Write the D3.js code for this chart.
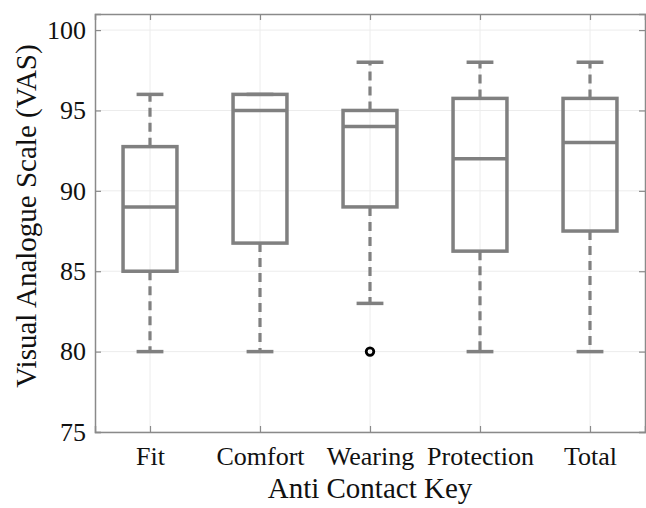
<!DOCTYPE html>
<html>
<head>
<meta charset="utf-8">
<script src="https://cdn.jsdelivr.net/npm/d3@7"></script>
<style>
  body { margin: 0; background: #fff; }
  text { font-family: "Liberation Serif", "Times New Roman", serif; fill: #111; }
</style>
</head>
<body>
<div id="chart"></div>
<script>
// data
var categories = ["Fit", "Comfort", "Wearing", "Protection", "Total"];
var whiskerLow  = [80, 80, 83, 80, 80];
var boxLow      = [85, 86.75, 89, 86.25, 87.5];
var medians     = [89, 95, 94, 92, 93];
var boxHigh     = [92.75, 96, 95, 95.75, 95.75];
var whiskerHigh = [96, 96, 98, 98, 98];
var outliers    = [[], [], [80], [], []];
var yTicks      = [75, 80, 85, 90, 95, 100];

var w = 646, h = 508;
var margin = {left: 95, right: 1, top: 14, bottom: 76};

var svg = d3.select("#chart").append("svg")
	.attr("width", w)
	.attr("height", h);

var x = d3.scaleLinear().domain([0.5, 5.5]).range([margin.left, w - margin.right]);
var y = d3.scaleLinear().domain([75, 101]).range([h - margin.bottom, margin.top]);

var boxColor = "#808080";
var gridColor = "#ececec";
var axisColor = "#8a8a8a";

// grid lines
svg.selectAll("line.ygrid").data(yTicks).enter().append("line")
	.attr("x1", x(0.5)).attr("x2", x(5.5))
	.attr("y1", function(d){ return y(d); }).attr("y2", function(d){ return y(d); })
	.attr("stroke", gridColor).attr("stroke-width", 1);
svg.selectAll("line.xgrid").data(categories).enter().append("line")
	.attr("x1", function(d,i){ return x(i+1); }).attr("x2", function(d,i){ return x(i+1); })
	.attr("y1", y(75)).attr("y2", y(101))
	.attr("stroke", gridColor).attr("stroke-width", 1);

// axes (ticks inward, box on)
var tickLen = 6;
var yAxis = d3.axisLeft(y).tickValues(yTicks).tickSize(-tickLen).tickPadding(9);
var yAxisR = d3.axisRight(y).tickValues(yTicks).tickSize(-tickLen).tickFormat("");
var xAxis = d3.axisBottom(x).tickValues([1,2,3,4,5]).tickSize(-tickLen).tickPadding(15)
	.tickFormat(function(d){ return categories[d-1]; });
var xAxisT = d3.axisTop(x).tickValues([1,2,3,4,5]).tickSize(-tickLen).tickFormat("");

function style(g) {
	g.select(".domain").attr("stroke", axisColor).attr("stroke-width", 1.5);
	g.selectAll(".tick line").attr("stroke", axisColor).attr("stroke-width", 1.2);
	g.selectAll("text").attr("font-size", 26).attr("font-family", "Liberation Serif").attr("fill", "#111");
}

svg.append("g").attr("transform", "translate(" + x(0.5) + ",0)").call(yAxis).call(style);
svg.append("g").attr("transform", "translate(" + x(5.5) + ",0)").call(yAxisR).call(style);
svg.append("g").attr("transform", "translate(0," + y(75) + ")").call(xAxis).call(style);
svg.append("g").attr("transform", "translate(0," + y(101) + ")").call(xAxisT).call(style);

// boxes
var boxHalf = 0.245, capHalf = 0.122;
var groups = svg.selectAll("g.box").data(categories).enter().append("g").attr("class", "box");

groups.append("line")   // upper whisker
	.attr("x1", function(d,i){ return x(i+1); }).attr("x2", function(d,i){ return x(i+1); })
	.attr("y1", function(d,i){ return y(boxHigh[i]); }).attr("y2", function(d,i){ return y(whiskerHigh[i]); })
	.attr("stroke", boxColor).attr("stroke-width", 3.2).attr("stroke-dasharray", "9,6");
groups.append("line")   // lower whisker
	.attr("x1", function(d,i){ return x(i+1); }).attr("x2", function(d,i){ return x(i+1); })
	.attr("y1", function(d,i){ return y(boxLow[i]); }).attr("y2", function(d,i){ return y(whiskerLow[i]); })
	.attr("stroke", boxColor).attr("stroke-width", 3.2).attr("stroke-dasharray", "9,6");

[whiskerHigh, whiskerLow].forEach(function(arr){
	groups.append("line")
		.attr("x1", function(d,i){ return x(i+1-capHalf); }).attr("x2", function(d,i){ return x(i+1+capHalf); })
		.attr("y1", function(d,i){ return y(arr[i]); }).attr("y2", function(d,i){ return y(arr[i]); })
		.attr("stroke", boxColor).attr("stroke-width", 3.5);
});

groups.append("rect")
	.attr("x", function(d,i){ return x(i+1-boxHalf); })
	.attr("width", function(d,i){ return x(i+1+boxHalf) - x(i+1-boxHalf); })
	.attr("y", function(d,i){ return y(boxHigh[i]); })
	.attr("height", function(d,i){ return y(boxLow[i]) - y(boxHigh[i]); })
	.attr("fill", "none").attr("stroke", boxColor).attr("stroke-width", 3.5);

groups.append("line")   // median
	.attr("x1", function(d,i){ return x(i+1-boxHalf); }).attr("x2", function(d,i){ return x(i+1+boxHalf); })
	.attr("y1", function(d,i){ return y(medians[i]); }).attr("y2", function(d,i){ return y(medians[i]); })
	.attr("stroke", boxColor).attr("stroke-width", 3.5);

// outliers
categories.forEach(function(c, i){
	svg.selectAll("circle.out" + i).data(outliers[i]).enter().append("circle")
		.attr("cx", x(i+1)).attr("cy", function(d){ return y(d); })
		.attr("r", 3.8).attr("fill", "none").attr("stroke", "#000").attr("stroke-width", 2.8);
});

// axis labels
svg.append("text")
	.attr("x", (x(0.5) + x(5.5)) / 2).attr("y", 498)
	.attr("text-anchor", "middle").attr("font-size", 29)
	.text("Anti Contact Key");
svg.append("text")
	.attr("transform", "translate(36," + 216 + ") rotate(-90)")
	.attr("text-anchor", "middle").attr("font-size", 29)
	.text("Visual Analogue Scale (VAS)");
</script>
</body>
</html>
